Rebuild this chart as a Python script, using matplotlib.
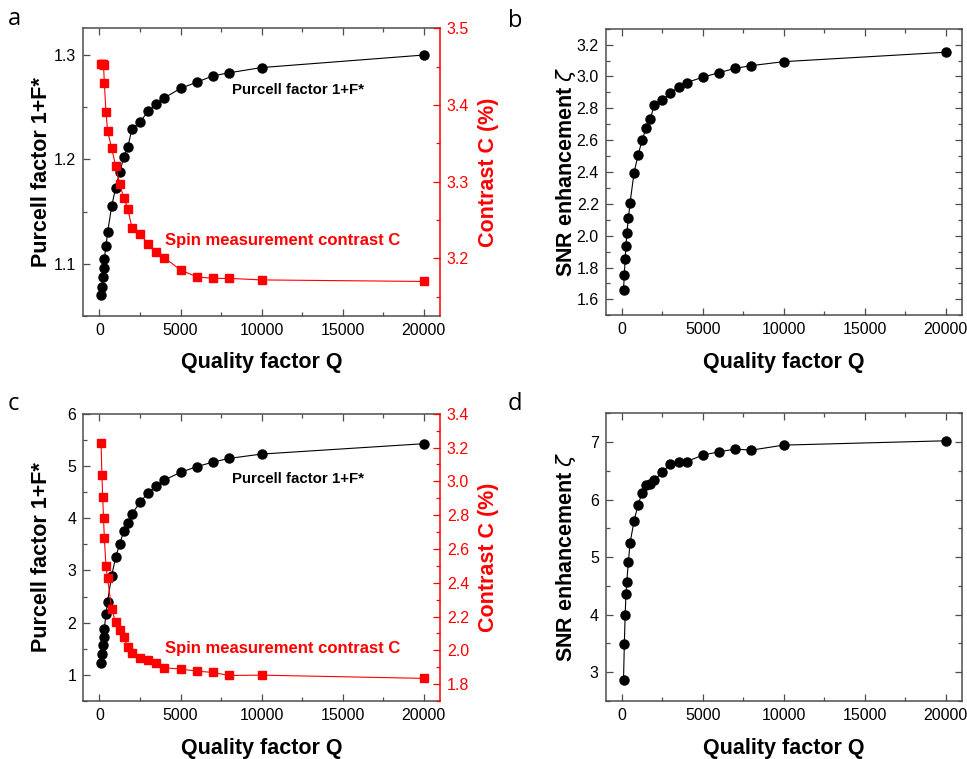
import numpy as np
import matplotlib
matplotlib.use('Agg')
import matplotlib.pyplot as plt
from matplotlib.ticker import MultipleLocator, FormatStrFormatter

plt.rcParams['font.family'] = ['Liberation Sans', 'DejaVu Sans']
plt.rcParams['mathtext.fontset'] = 'dejavusans'

# ---------------- data ----------------
Q = [100, 150, 200, 250, 300, 400, 500, 750, 1000, 1250, 1500, 1750, 2000,
     2500, 3000, 3500, 4000, 5000, 6000, 7000, 8000, 10000, 20000]

# panel a
purcell_a = [1.070, 1.078, 1.087, 1.096, 1.105, 1.117, 1.130, 1.155, 1.173,
             1.188, 1.202, 1.212, 1.229, 1.236, 1.246, 1.253, 1.259, 1.268,
             1.274, 1.280, 1.283, 1.288, 1.300]
contrast_a = [3.454, 3.453, 3.453, 3.452, 3.429, 3.391, 3.366, 3.344, 3.320,
              3.297, 3.279, 3.265, 3.240, 3.232, 3.219, 3.209, 3.201, 3.185,
              3.176, 3.174, 3.174, 3.172, 3.170]
# panel b
snr_b = [1.661, 1.755, 1.851, 1.935, 2.014, 2.108, 2.204, 2.395, 2.508, 2.600,
         2.677, 2.731, 2.821, 2.851, 2.897, 2.932, 2.962, 2.995, 3.024, 3.051,
         3.068, 3.093, 3.152]
# panel c
purcell_c = [1.236, 1.402, 1.568, 1.734, 1.887, 2.161, 2.403, 2.901, 3.251,
             3.513, 3.749, 3.915, 4.080, 4.304, 4.489, 4.616, 4.731, 4.878,
             4.986, 5.075, 5.145, 5.228, 5.426]
contrast_c = [3.226, 3.036, 2.906, 2.782, 2.663, 2.499, 2.426, 2.244, 2.167,
              2.120, 2.077, 2.019, 1.984, 1.954, 1.944, 1.922, 1.897, 1.889,
              1.877, 1.869, 1.851, 1.853, 1.834]
# panel d
snr_d = [2.872, 3.490, 3.987, 4.353, 4.573, 4.915, 5.240, 5.629, 5.913, 6.120,
         6.262, 6.274, 6.338, 6.477, 6.617, 6.662, 6.662, 6.774, 6.832, 6.878,
         6.861, 6.948, 7.023]

SPINE = '#4d4d4d'
RED = '#ff0000'
LAB = 15.5
TICK = 11.5


def style_axis(ax, ylim, ymajor, yminor, right=True):
    ax.set_xlim(-1000, 21000)
    ax.set_ylim(*ylim)
    ax.xaxis.set_major_locator(MultipleLocator(5000))
    ax.xaxis.set_minor_locator(MultipleLocator(2500))
    ax.yaxis.set_major_locator(MultipleLocator(ymajor))
    ax.yaxis.set_minor_locator(MultipleLocator(yminor))
    ax.tick_params(which='both', direction='in', top=True, right=right,
                   color=SPINE, labelsize=TICK, pad=5)
    ax.tick_params(which='major', length=5, width=0.9)
    ax.tick_params(which='minor', length=3, width=0.9)
    for s in ax.spines.values():
        s.set_color(SPINE)
        s.set_linewidth(1.1)
    ax.set_xlabel('Quality factor Q', fontsize=LAB, fontweight='bold', labelpad=10.5)


def purcell_panel(rect, F, C, ylim, ymaj, ymin, clim, cmaj, cmin, ty_black, ty_red):
    ax = fig.add_axes(rect)
    style_axis(ax, ylim, ymaj, ymin, right=False)
    ax.spines['right'].set_visible(False)
    ax.plot(Q, F, '-o', color='black', ms=6.5, lw=0.8)
    ax.set_ylabel('Purcell factor 1+F*', fontsize=LAB, fontweight='bold')
    ax.yaxis.set_label_coords(-0.088, 0.5)
    ax2 = ax.twinx()
    ax2.plot(Q, C, '-s', color=RED, ms=5.5, lw=0.8)
    ax2.set_ylim(*clim)
    ax2.yaxis.set_major_locator(MultipleLocator(cmaj))
    ax2.yaxis.set_minor_locator(MultipleLocator(cmin))
    ax2.tick_params(which='both', direction='in', color=RED, labelcolor=RED,
                    labelsize=TICK, pad=5)
    ax2.tick_params(which='major', length=5, width=0.9)
    ax2.tick_params(which='minor', length=3, width=0.9)
    for k, s in ax2.spines.items():
        s.set_visible(k == 'right')
    ax2.spines['right'].set_color(RED)
    ax2.spines['right'].set_linewidth(1.1)
    ax2.set_ylabel('Contrast C (%)', fontsize=LAB, fontweight='bold', color=RED)
    ax2.yaxis.set_label_coords(1.106, 0.5)
    ax.text(0.417, ty_black, 'Purcell factor 1+F*', transform=ax.transAxes,
            fontsize=10.8, fontweight='bold', va='center', ha='left')
    ax.text(0.229, ty_red, 'Spin measurement contrast C', transform=ax.transAxes,
            fontsize=12, fontweight='bold', color=RED, va='center', ha='left')
    return ax


def snr_panel(rect, S, ylim, ymaj, ymin):
    ax = fig.add_axes(rect)
    style_axis(ax, ylim, ymaj, ymin)
    ax.plot(Q, S, '-o', color='black', ms=6.5, lw=0.8)
    ax.set_ylabel(r'SNR enhancement $\zeta$', fontsize=LAB, fontweight='bold')
    ax.yaxis.set_label_coords(-0.077, 0.5)
    return ax


fig = plt.figure(figsize=(9.67, 7.59), dpi=100)

ax_a = purcell_panel([0.0861, 0.5837, 0.3689, 0.379], purcell_a, contrast_a,
                     (1.05, 1.3256), 0.1, 0.05, (3.125, 3.5), 0.1, 0.05, 0.786, 0.264)
ax_a.yaxis.set_major_formatter(FormatStrFormatter('%.1f'))
ax_b = snr_panel([0.6264, 0.5846, 0.3681, 0.3776], snr_b, (1.5, 3.3), 0.2, 0.1)
ax_b.yaxis.set_major_formatter(FormatStrFormatter('%.1f'))
ax_c = purcell_panel([0.0861, 0.0764, 0.3689, 0.3785], purcell_c, contrast_c,
                     (0.5, 6.0), 1, 0.5, (1.7, 3.4), 0.2, 0.1, 0.774, 0.183)
ax_d = snr_panel([0.6264, 0.0764, 0.3681, 0.379], snr_d, (2.5, 7.5), 1, 0.5)

for lab, x, y in [('a', 0.008, 0.975), ('b', 0.525, 0.972), ('c', 0.008, 0.468), ('d', 0.525, 0.468)]:
    fig.text(x, y, lab, fontsize=17, family=['Open Sans', 'DejaVu Sans'],
             va='center', ha='left')

fig.savefig('out.png', dpi=100)
